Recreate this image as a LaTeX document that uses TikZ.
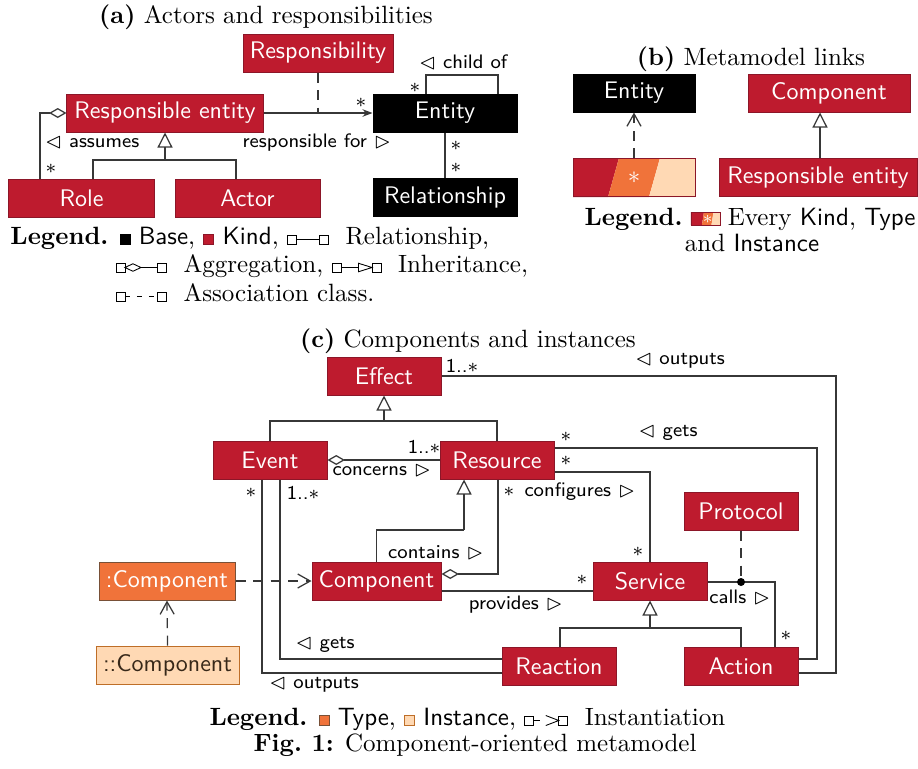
\documentclass[tikz,border=0pt]{standalone}
\usepackage{amssymb}
\usetikzlibrary{arrows.meta}
\definecolor{kind}{RGB}{190,27,46}
\definecolor{kindedge}{RGB}{140,22,40}
\definecolor{typec}{RGB}{240,115,58}
\definecolor{typeedge}{RGB}{120,80,55}
\definecolor{instc}{RGB}{255,217,180}
\definecolor{instedge}{RGB}{190,110,40}
\definecolor{insttext}{RGB}{55,40,25}
\definecolor{linec}{RGB}{55,55,55}
\newcommand{\legsq}[2]{\tikz[baseline=0pt,x=1pt,y=1pt]\filldraw[fill=#1,draw=#2,line width=0.35pt] (0,0) rectangle (4,4);}
\newcommand{\legRel}{\tikz[baseline=0pt,x=1pt,y=1pt,line width=0.35pt]{\draw (0,0) rectangle (3.6,3.6); \draw (3.6,1.8) -- (12.8,1.8); \draw (12.8,0) rectangle (16.4,3.6);}}
\newcommand{\legAgg}{\tikz[baseline=0pt,x=1pt,y=1pt,line width=0.35pt]{\draw (0,0) rectangle (3.6,3.6); \draw (3.6,1.8) -- (6.8,3.3) -- (10,1.8) -- (6.8,0.3) -- cycle; \draw (10,1.8) -- (16.6,1.8); \draw (16.6,0) rectangle (20.2,3.6);}}
\newcommand{\legInh}{\tikz[baseline=0pt,x=1pt,y=1pt,line width=0.35pt]{\draw (0,0) rectangle (3.6,3.6); \draw (3.6,1.8) -- (10.6,1.8); \draw (10.6,0.1) -- (10.6,3.5) -- (16,1.8) -- cycle; \draw (16,0) rectangle (19.6,3.6);}}
\newcommand{\legAsc}{\tikz[baseline=0pt,x=1pt,y=1pt,line width=0.35pt]{\draw (0,0) rectangle (3.6,3.6); \draw[dash pattern=on 2.2pt off 2.6pt] (3.6,1.8) -- (16.6,1.8); \draw (16.6,0) rectangle (20.2,3.6);}}
\newcommand{\legInst}{\tikz[baseline=0pt,x=1pt,y=1pt,line width=0.35pt]{\draw (0,0) rectangle (3.6,3.6); \draw (3.6,1.8) -- (6,1.8); \draw (8.4,3.8) -- (13.6,1.8) -- (8.4,-0.2); \draw (13.6,0) rectangle (17.2,3.6);}}
\newcommand{\legTri}{\tikz[baseline=0pt,x=1pt,y=1pt]{\fill[kind] (0,0) -- (4.4,0) -- (5.2,5.2) -- (0,5.2) -- cycle; \fill[typec] (4.4,0) -- (8.2,0) -- (9,5.2) -- (5.2,5.2) -- cycle; \fill[instc] (8.2,0) -- (11.6,0) -- (11.6,5.2) -- (9,5.2) -- cycle; \draw[kindedge,line width=0.35pt] (0,0) rectangle (11.6,5.2); \node[anchor=center,text=white,inner sep=0pt,font=\scriptsize] at (6.7,2.4) {$*$};}}
\begin{document}
\begin{tikzpicture}[x=0.4pt,y=-0.4pt,
  box/.style={rectangle, inner sep=0pt, minimum height=15.2pt, font=\sffamily\fontsize{9.6}{11}\selectfont, text=white, line width=0.4pt},
  kindbox/.style={box, fill=kind, draw=kindedge},
  basebox/.style={box, fill=black, draw=black},
  typebox/.style={box, fill=typec, draw=typeedge},
  instbox/.style={box, fill=instc, draw=instedge, text=insttext},
  conn/.style={line width=0.5pt, draw=linec},
  lbl/.style={font=\sffamily\fontsize{7.8}{9}\selectfont, inner sep=0pt, text=black},
  ttl/.style={font=\fontsize{10}{12}\selectfont, inner sep=0pt, anchor=base},
  lgd/.style={font=\fontsize{10}{12}\selectfont, inner sep=0pt, anchor=base west},
  inh/.style={conn, -{Triangle[open, length=6pt, width=6pt]}},
  aggr/.style={conn, -{Diamond[open, length=7pt, width=4pt]}},
  assoc/.style={conn, -{Stealth[length=4pt, width=3pt]}},
  dsh/.style={conn, dash pattern=on 4pt off 3pt},
  instarr/.style={dsh, -{Straight Barb[length=5pt, width=5.6pt]}}
]
\useasboundingbox (0,0) rectangle (918,768);

% ===================== (a) =====================
\node[ttl] (ta) at (266,23) {\textbf{(a)} Actors and responsibilities};
\node[kindbox, minimum width=60pt] (respy) at (318,53) {Responsibility};
\node[kindbox, minimum width=78.4pt] (resp) at (165,113) {Responsible entity};
\node[basebox, minimum width=57.6pt] (ent) at (445,113) {Entity};
\node[basebox, minimum width=57.6pt] (rel) at (445,197) {Relationship};
\node[kindbox, minimum width=58pt] (role) at (81.5,198) {Role};
\node[kindbox, minimum width=58pt] (actor) at (247.5,198) {Actor};

\draw[assoc] (resp.east) -- (ent.west);
\draw[dsh] (respy.south) -- (respy.south |- resp.east);
\node[lbl] at (361,103) {$*$};
\node[lbl] at (317,143) {responsible for $\vartriangleright$};
\draw[conn] (ent.north -| 426,0) |- (462,75) -| (ent.north -| 498,0);
\node[lbl] at (415,88) {$*$};
\node[lbl] at (463,62) {$\vartriangleleft$ child of};
\draw[conn] (ent) -- (rel);
\node[lbl] at (456,146) {$*$};
\node[lbl] at (456,168) {$*$};
\draw[aggr] (role.north -| 40,0) |- (resp.west);
\node[lbl] at (51,169) {$*$};
\node[lbl] at (92,143) {$\vartriangleleft$ assumes};
\coordinate (ja) at (165,160);
\draw[conn] (role.north -| 93,0) |- (ja) -| (actor.north -| 236,0);
\draw[inh] (ja) -- (resp.south);

\node[lgd] (la1) at (10,244) {\textbf{Legend.} \legsq{black}{black} {\sffamily Base}, \legsq{kind}{kindedge} {\sffamily Kind}, \legRel\ \ Relationship,};
\node[lgd] (la2) at (115,272) {\legAgg\ \ Aggregation, \legInh\ \ Inheritance,};
\node[lgd] (la3) at (115,301) {\legAsc\ \ Association class.};

% ===================== (b) =====================
\node[ttl] (tb) at (751,65) {\textbf{(b)} Metamodel links};
\node[basebox, minimum width=48.8pt] (bent) at (634,93) {Entity};
\node[kindbox, minimum width=64.8pt] (bcomp) at (829,93) {Component};
\fill[kind] (573,158) -- (619,158) -- (608,197) -- (573,197) -- cycle;
\fill[typec] (619,158) -- (660,158) -- (649,197) -- (608,197) -- cycle;
\fill[instc] (660,158) -- (695,158) -- (695,197) -- (649,197) -- cycle;
\node[box, minimum width=48.8pt, draw=kindedge] (btri) at (634,177.5) {$*$};
\node[kindbox, minimum width=79.2pt] (bre) at (818,177.5) {Responsible entity};
\draw[instarr] (btri.north) -- (bent.south);
\draw[inh] (bre.north -| 820,0) -- (bcomp.south -| 820,0);
\node[lgd, anchor=base east] (lb1) at (916,225) {\textbf{Legend.}\hspace{3.2pt}\legTri\hspace{3pt}Every {\sffamily Kind}, {\sffamily Type}};
\node[ttl] (lb2) at (752,251) {and {\sffamily Instance}};

% ===================== (c) =====================
\node[ttl] (tc) at (468,347) {\textbf{(c)} Components and instances};
\node[kindbox, minimum width=45.6pt] (effect) at (384,376) {Effect};
\node[kindbox, minimum width=45.6pt] (event) at (270,460) {Event};
\node[kindbox, minimum width=45.6pt] (res) at (497,460) {Resource};
\node[kindbox, minimum width=45.6pt] (proto) at (741,511) {Protocol};
\node[kindbox, minimum width=51.6pt] (comp) at (376.5,581) {Component};
\node[kindbox, minimum width=45.6pt] (serv) at (650,581) {Service};
\node[typebox, minimum width=54.4pt] (tcomp) at (167,581) {:Component};
\node[instbox, minimum width=57.2pt] (icomp) at (167.5,665) {::Component};
\node[kindbox, minimum width=45.6pt] (react) at (559,666) {Reaction};
\node[kindbox, minimum width=45.6pt] (action) at (741,666) {Action};

% inheritance to Effect
\coordinate (je) at (384,421);
\draw[conn] (event.north) |- (je) -| (res.north);
\draw[inh] (je) -- (effect.south);
% concerns
\draw[aggr] (res.west) -- (event.east);
\node[lbl] at (424,447) {1..$*$};
\node[lbl] at (382,471) {concerns $\vartriangleright$};
% outputs (Action -> Effect)
\draw[conn] (effect.east) -| (836,673) -- (action.east |- 836,673);
\node[lbl] at (462,366) {1..$*$};
\node[lbl] at (680,361) {$\vartriangleleft$ outputs};
% gets (Action -> Resource)
\draw[conn] (res.east |- 0,448) -| (817,659) -- (action.east |- 817,659);
\node[lbl] at (566,437) {$*$};
\node[lbl] at (668,433) {$\vartriangleleft$ gets};
% configures
\draw[conn] (res.east |- 0,472) -| (serv.north);
\node[lbl] at (566,461) {$*$};
\node[lbl] at (638,552) {$*$};
\node[lbl] at (580,492) {configures $\vartriangleright$};
\node[lbl] at (509,492) {$*$};
% Component inherits Resource
\coordinate (jr) at (464,530);
\draw[conn] (comp.north) |- (jr);
\draw[inh] (jr) -- (res.south -| jr);
% contains
\draw[aggr] (res.south -| 498,0) |- (comp.east |- 0,574);
\node[lbl] at (436,553) {contains $\vartriangleright$};
% provides
\draw[conn] (comp.east |- 0,591) -- (serv.west |- 0,591);
\node[lbl] at (582,580) {$*$};
\node[lbl] at (516,605) {provides $\vartriangleright$};
% calls
\coordinate (cd) at (741,582);
\draw[conn] (serv.east |- cd) -| (action.north -| 775,0);
\draw[dsh] (proto.south) -- (cd);
\fill[black] (cd) circle (1.6pt);
\node[lbl] at (740,597) {calls $\vartriangleright$};
\node[lbl] at (786,636) {$*$};
% inheritance to Service
\coordinate (js) at (650,628);
\draw[conn] (react.north -| 560,0) |- (js) -| (action.north);
\draw[inh] (js) -- (serv.south);
% Event gets / outputs
\draw[conn] (event.south -| 280,0) |- (react.west |- 0,659);
\draw[conn] (event.south -| 262,0) |- (react.west |- 0,673);
\node[lbl] at (251,493) {$*$};
\node[lbl] at (303,493) {1..$*$};
\node[lbl] at (325,645) {$\vartriangleleft$ gets};
\node[lbl] at (314,685) {$\vartriangleleft$ outputs};
% instantiation
\draw[instarr] (tcomp.east) -- (comp.west);
\draw[instarr] (icomp.north) -- (tcomp.south);

\node[lgd] (lc) at (209,725) {\textbf{Legend.} \legsq{typec}{typeedge} {\sffamily Type}, \legsq{instc}{instedge} {\sffamily Instance}, \legInst\ \ Instantiation};
\node[ttl] (cap) at (475,751) {\textbf{Fig.\ 1:} Component-oriented metamodel};
\end{tikzpicture}
\end{document}
